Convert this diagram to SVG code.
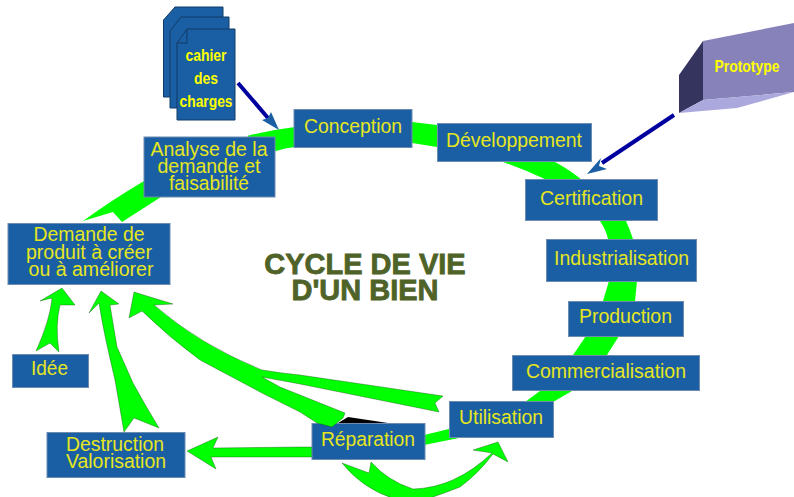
<svg xmlns="http://www.w3.org/2000/svg" width="794" height="497" viewBox="0 0 794 497">
<style>
.b{fill:#1a5fa3;stroke:#6d8cb0;stroke-width:1}
.s{fill:#1a5fa3;stroke:#123a66;stroke-width:1}
.t{font-family:"Liberation Sans",Arial,sans-serif;font-size:20.5px;fill:#e6e620;text-anchor:middle}
.c{font-family:"Liberation Sans",Arial,sans-serif;font-size:17px;font-weight:bold;fill:#ffff00;text-anchor:middle}
.g{fill:#00ff00}
.e{fill:#00ff00;stroke:#0a3a0a;stroke-width:.35}
.h{fill:#1a5fa3}
.l{stroke:#00009e;stroke-width:4;fill:none}
.title{font-family:"Liberation Sans",Arial,sans-serif;font-size:29px;font-weight:bold;fill:#4f6228;stroke:#4f6228;stroke-width:.8;text-anchor:middle}
</style>
<rect width="794" height="497" fill="#fff"/>
<g id="connectors">
<path class="g" d="M83 221Q112 200 144 181L161 197L122 222L113 212Z"/>
<path class="g" d="M247 136Q270 130 295 127V147Q285 148 276 151Z"/>
<path class="g" d="M412 122L437 125V147L412 143Z"/>
<path class="g" d="M503 162Q526 170 547 180H582Q570 170 555 162Z"/>
<path class="g" d="M600 221Q606 230 608 239H633Q630 230 626 221Z"/>
<path class="g" d="M609 281L603 301H635L637 281Z"/>
<path class="g" d="M586 336L573 355H607L619 336Z"/>
<path class="g" d="M540 391L525 402H553L572 391Z"/>
<path class="g" d="M449 429L424 435V445L464 437Z"/>
<path class="e" d="M187 451L218 437L213 448L300 447L312 447V457L211 457L216 469Z"/>
<path class="e" d="M124 432L134 418L159 428Q145 405 133 383Q122 358 117 347L110 305L119 304L101 291L89 313L99 303Q103 330 115 380Z"/>
<path class="e" d="M36 351L50 343L59 352Q55 325 60 305L75 305L62 288L40 301L52 298Q50 320 36 351Z"/>
<path class="e" d="M342 463L369 473L371 462Q388 481 413 489Q455 488 492 453L473 450L498 442L508 462L493 454Q478 474 460 487Q445 493 430 498H392Q362 488 342 463Z"/>
<path class="l" d="M238 83L268 118"/>
<path class="h" d="M279 130L262 120L268 118L271 112Z"/>
<path class="l" d="M674 115L602 163"/>
<path class="h" d="M587 174L601 158L599 166L607 169Z"/>
</g>
<g id="cahier">
<path class="s" d="M175 7H223V97H163.500V20Z"/>
<path class="s" d="M181 17H229V108H170V31Z"/>
<path class="s" d="M187 29H235V120H177V43Z"/>
<path d="M187 29V43H177" fill="none" stroke="#123a66"/>
<text class="c" x="206" y="61" textLength="41" lengthAdjust="spacingAndGlyphs">cahier</text>
<text class="c" x="206" y="84" textLength="24" lengthAdjust="spacingAndGlyphs">des</text>
<text class="c" x="206" y="107" textLength="53" lengthAdjust="spacingAndGlyphs">charges</text>
</g>
<g id="prototype">
<path fill="#8882ba" d="M703 41L794 23V92L703 100Z"/>
<path fill="#35345f" d="M679 75L703 41V100L679 113Z"/>
<path fill="#aaa8dc" d="M679 113L703 100L794 92L737 108Z"/>
<text class="c" x="747" y="72" textLength="65" lengthAdjust="spacingAndGlyphs">Prototype</text>
</g>
<g id="demande"><rect class="b" x="8" y="223.500" width="162" height="61"/><text class="t" x="89" y="241" textLength="111" lengthAdjust="spacingAndGlyphs">Demande de</text><text class="t" x="89" y="259" textLength="126" lengthAdjust="spacingAndGlyphs">produit à créer</text><text class="t" x="91" y="276" textLength="125" lengthAdjust="spacingAndGlyphs">ou à améliorer</text></g>
<g id="analyse"><rect class="b" x="144" y="137" width="131" height="60"/><text class="t" x="209" y="156" textLength="117" lengthAdjust="spacingAndGlyphs">Analyse de la</text><text class="t" x="209" y="173" textLength="103" lengthAdjust="spacingAndGlyphs">demande et</text><text class="t" x="209" y="190" textLength="80" lengthAdjust="spacingAndGlyphs">faisabilité</text></g>
<g id="conception"><rect class="b" x="294" y="109.500" width="118" height="38"/><text class="t" x="353" y="133" textLength="98" lengthAdjust="spacingAndGlyphs">Conception</text></g>
<g id="developpement"><rect class="b" x="437.500" y="123.500" width="154" height="38"/><text class="t" x="514" y="147" textLength="136" lengthAdjust="spacingAndGlyphs">Développement</text></g>
<g id="certification"><rect class="b" x="525.500" y="179.500" width="132" height="41"/><text class="t" x="591.500" y="205" textLength="103" lengthAdjust="spacingAndGlyphs">Certification</text></g>
<g id="industrialisation"><rect class="b" x="546.500" y="239.500" width="150" height="42"/><text class="t" x="621.500" y="265" textLength="135" lengthAdjust="spacingAndGlyphs">Industrialisation</text></g>
<g id="production"><rect class="b" x="568.500" y="301.500" width="115" height="35"/><text class="t" x="625.500" y="323" textLength="93" lengthAdjust="spacingAndGlyphs">Production</text></g>
<g id="commercialisation"><rect class="b" x="512.500" y="355.500" width="187" height="35"/><text class="t" x="606" y="378" textLength="160" lengthAdjust="spacingAndGlyphs">Commercialisation</text></g>
<g id="utilisation"><rect class="b" x="449.500" y="401.500" width="104" height="36"/><text class="t" x="501" y="424" textLength="84" lengthAdjust="spacingAndGlyphs">Utilisation</text></g>
<g id="reparation"><rect class="b" x="312" y="423.500" width="113" height="36"/><text class="t" x="368" y="446" textLength="94" lengthAdjust="spacingAndGlyphs">Réparation</text></g>
<g id="destruction"><rect class="b" x="47" y="432.500" width="138" height="45"/><text class="t" x="115" y="451" textLength="98" lengthAdjust="spacingAndGlyphs">Destruction</text><text class="t" x="116" y="468" textLength="100" lengthAdjust="spacingAndGlyphs">Valorisation</text></g>
<g id="idee"><rect class="b" x="12.500" y="354.500" width="76" height="33"/><text class="t" x="49.500" y="375" textLength="37" lengthAdjust="spacingAndGlyphs">Idée</text></g>
<g id="connectors-top">
<path d="M338 423L348 417L388 423Z" fill="#000"/>
<path class="e" d="M134 292L173 304L154 305Q200 345 262 370Q280 373 300 375L443 396L435 403L439 412L300 384L262 377L280 387L345 413L343 418L332 427L317 423L300 412L262 393L200 360Q170 338 142 311L129 318Z"/>
</g>
<g id="titre"><text class="title"><tspan x="365" y="274">CYCLE DE VIE</tspan><tspan x="365" y="300">D'UN BIEN</tspan></text></g>
</svg>
